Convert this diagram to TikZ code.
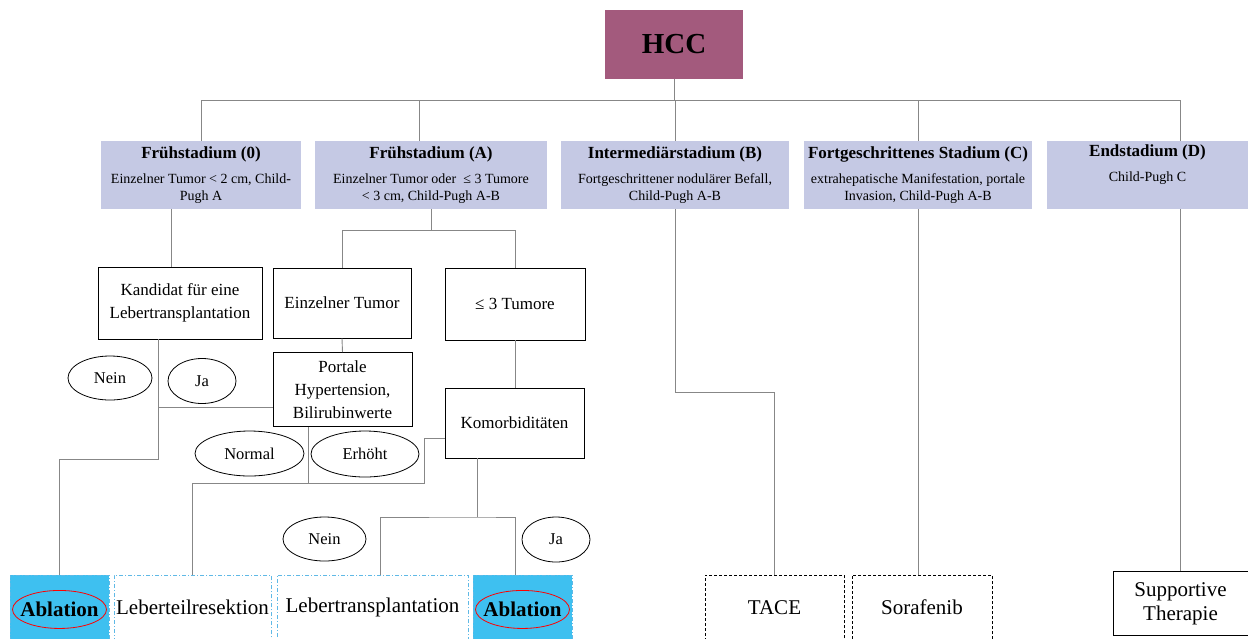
\documentclass[tikz,border=0pt]{standalone}
\usepackage{fontspec}
\setmainfont{Liberation Serif}
\usetikzlibrary{shapes.geometric, positioning}

\definecolor{hccrot}{RGB}{163,90,125}
\definecolor{stufe}{RGB}{197,201,228}
\definecolor{ablblau}{RGB}{62,192,240}
\definecolor{randblau}{RGB}{95,185,230}
\definecolor{linie}{RGB}{135,135,135}

\newcommand{\stufentitel}[1]{{\fontsize{17}{19}\selectfont\bfseries #1}}

\begin{document}
\begin{tikzpicture}[x=1pt, y=-1pt,
  link/.style={draw=linie, line width=0.9pt},
  kopf/.style={fill=hccrot, minimum width=138, minimum height=69, font=\fontsize{29}{32}\selectfont\bfseries},
  stadium/.style={fill=stufe, align=center, inner sep=0pt, minimum height=68, font=\fontsize{14}{17}\selectfont},
  kasten/.style={draw, line width=0.8pt, align=center, inner sep=2pt, font=\fontsize{17}{23}\selectfont},
  antwort/.style={ellipse, draw, line width=0.8pt, inner sep=0pt, font=\fontsize{16.5}{20}\selectfont},
  therapie/.style={anchor=north, minimum height=64, inner sep=0pt, align=center, font=\fontsize{21}{24}\selectfont},
  strich/.style={therapie, draw=randblau, line width=0.9pt, dash pattern=on 4pt off 2pt on 1pt off 2pt},
  ablation/.style={strich, fill=ablblau},
  ring/.style={ellipse, draw=red, line width=0.8pt, inner sep=0pt, minimum width=94, minimum height=38, font=\fontsize{21}{24}\selectfont\bfseries},
  gestrichelt/.style={therapie, draw, line width=0.8pt, dash pattern=on 3pt off 2pt}
]
\useasboundingbox (0,0) rectangle (1248,638);

% Wurzel
\node[kopf] (hcc) at (674,44.5) {HCC};

% Stadien
\node[stadium, minimum width=200] (s0) at (201,175)
  {\stufentitel{Frühstadium (0)}\\[8pt] Einzelner Tumor < 2 cm, Child-\\ Pugh A};
\node[stadium, minimum width=232] (sA) at (431,175)
  {\stufentitel{Frühstadium (A)}\\[8pt] Einzelner Tumor oder \ ≤ 3 Tumore\\ < 3 cm, Child-Pugh A-B};
\node[stadium, minimum width=228] (sB) at (675,175)
  {\stufentitel{Intermediärstadium (B)}\\[8pt] Fortgeschrittener nodulärer Befall,\\ Child-Pugh A-B};
\node[stadium, minimum width=228] (sC) at (918,175)
  {\stufentitel{Fortgeschrittenes Stadium (C)}\\[8pt] extrahepatische Manifestation, portale\\ Invasion, Child-Pugh A-B};
\node[stadium, minimum width=201] (sD) at (1147.5,175)
  {\stufentitel{Endstadium (D)}\\[8pt] Child-Pugh C\\[6pt] \mbox{}};

% Entscheidungen
\node[kasten, minimum width=164, minimum height=72] (kand) at (180,303) {Kandidat für eine\\ Lebertransplantation};
\node[kasten, minimum width=138, minimum height=70] (einz) at (342,303) {Einzelner Tumor};
\node[kasten, minimum width=140, minimum height=72] (drei) at (515,304) {≤ 3 Tumore};
\node[kasten, minimum width=139, minimum height=74] (port) at (342.5,389.5) {Portale\\ Hypertension,\\ Bilirubinwerte};
\node[kasten, minimum width=139, minimum height=70] (komo) at (514.5,423) {Komorbiditäten};

% Antworten
\node[antwort, minimum width=84, minimum height=44] (nein1) at (110,378) {Nein};
\node[antwort, minimum width=68, minimum height=45] (ja1) at (202,381) {Ja};
\node[antwort, minimum width=109, minimum height=45] (normal) at (249.5,453.5) {Normal};
\node[antwort, minimum width=108, minimum height=46] (erhoeht) at (365,454) {Erhöht};
\node[antwort, minimum width=83, minimum height=44] (nein2) at (324.5,539) {Nein};
\node[antwort, minimum width=68, minimum height=45] (ja2) at (556,539.5) {Ja};

% Therapien
\node[ablation, minimum width=99] (abl1) at (59.5,575) {};
\node[ring] (abl1txt) at ([yshift=-2pt]abl1.center) {\makebox[50pt][c]{Ablation}};
\node[strich, minimum width=157] (leb1) at (192.5,575) {Leberteilresektion};
\node[strich, minimum width=191] (leb2) at (372.5,575) {Lebertransplantation};
\node[ablation, minimum width=99] (abl2) at (522.5,575) {};
\node[ring] (abl2txt) at ([yshift=-2pt]abl2.center) {\makebox[50pt][c]{Ablation}};
\node[gestrichelt, minimum width=139] (tace) at (774.5,575) {TACE};
\node[gestrichelt, minimum width=140] (sora) at (922,575) {Sorafenib};
\node[therapie, draw, line width=0.8pt, minimum width=135] (supp) at (1180.5,571) {Supportive\\ Therapie};

% Verbindungen oben
\coordinate (bus) at (0,100);
\draw[link] (hcc.south) -- (hcc.south |- bus);
\draw[link] (s0.north) -- (s0.north |- bus) -- (supp.north |- bus) -- (supp.north |- sD.north);
\draw[link] ([xshift=-12pt]sA.north) -- ([xshift=-12pt]sA.north |- bus);
\draw[link] (sB.north) -- (sB.north |- bus);
\draw[link] (sC.north) -- (sC.north |- bus);

% Stadium 0 und A
\draw[link] ([xshift=-30pt]s0.south) -- ([xshift=-30pt]s0.south |- kand.north);
\draw[link] (sA.south) -- ++(0,21) coordinate (gA);
\draw[link] (einz.north) |- (gA) -| (drei.north);
\draw[link] (einz.south) -- (port.north);
\draw[link] (drei.south) -- (drei.south |- komo.north);

% Kandidat
\coordinate (knickK) at ([xshift=-22pt]kand.south |- 0,459);
\draw[link] ([xshift=-22pt]kand.south) -- (knickK) -| (abl1.north);
\draw[link] ([yshift=-18pt]port.west) -- ([yshift=-18pt]port.west -| knickK);

% Portale Hypertension
\coordinate (knickP) at ([xshift=-34.5pt]port.south |- 0,483);
\draw[link] ([xshift=-34.5pt]port.south) -- (knickP) -| (leb1.north);
\draw[link] (knickP) -| ([xshift=-20pt,yshift=-15pt]komo.west) -- ([yshift=-15pt]komo.west);

% Komorbiditaeten
\coordinate (knickM) at ([xshift=-37.5pt]komo.south |- 0,517);
\draw[link] ([xshift=-37.5pt]komo.south) -- (knickM);
\draw[link] ([xshift=7.5pt]leb2.north) |- (knickM) -| ([xshift=-7.5pt]abl2.north);

% Stadien B, C, D
\draw[link] (sB.south) -- ++(0,183) -| (tace.north);
\draw[link] (sC.south) -- (sC.south |- sora.north);
\draw[link] (supp.north |- sD.south) -- (supp.north);
\end{tikzpicture}
\end{document}
